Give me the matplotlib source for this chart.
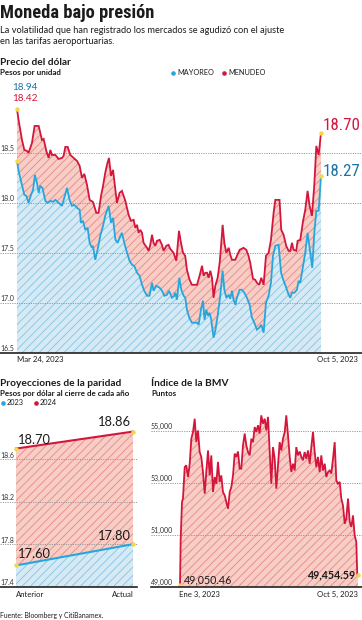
import matplotlib
matplotlib.use("Agg")
import matplotlib.pyplot as plt
from matplotlib import font_manager
import numpy as np

# ---------------- data ----------------
dolar_inicio, dolar_fin = "Mar 24, 2023", "Oct 5, 2023"
menudeo_dia = [0, 1.0, 3.2, 4.7, 6.4, 7.4, 9.6, 11.3, 13.9, 16.0, 17.1, 18.8, 20.3, 21.4, 22.4, 24.6,
               26.7, 28.9, 29.9, 31.0, 32.5, 34.2, 36.3, 38.5, 40.2, 41.7, 43.2, 44.9, 46.6, 48.7,
               50.9, 52.3, 53.9, 55.2, 56.6, 57.7, 59.0, 60.3, 61.6, 63.1, 64.1, 65.8, 67.3, 69.5,
               71.6, 73.1, 74.8, 75.9, 77.0, 78.0, 79.1, 80.2, 81.2, 83.4, 84.4, 85.5, 86.6, 87.6,
               88.7, 89.8, 91.5, 93.0, 94.0, 95.8, 97.2, 98.3, 100.4, 102.2, 103.9, 105.2, 106.5,
               107.9, 109.0, 110.7, 112.2, 113.7, 115.5, 117.1, 118.7, 119.7, 120.8, 121.9, 122.9,
               124.0, 125.1, 126.1, 127.2, 128.7, 130.0, 130.9, 131.9, 133.0, 134.3, 135.8, 136.8,
               137.9, 140.0, 141.1, 142.8, 145.3, 147.1, 148.5, 149.6, 151.4, 152.8, 153.9, 155.4,
               156.7, 158.2, 159.7, 161.4, 162.9, 164.6, 165.7, 168.4, 169.5, 171.0, 172.7, 174.2,
               175.3, 176.4, 177.4, 179.1, 180.0, 181.7, 183.5, 184.9, 186.4, 187.7, 189.2, 190.7,
               192.0, 193.5, 195.0]
menudeo = [18.94, 18.83, 18.63, 18.53, 18.52, 18.50, 18.60, 18.77, 18.77, 18.63, 18.64, 18.52, 18.45,
           18.53, 18.48, 18.48, 18.44, 18.45, 18.47, 18.56, 18.56, 18.48, 18.45, 18.42, 18.37, 18.25,
           18.29, 18.18, 18.03, 18.01, 17.90, 17.90, 18.07, 18.17, 18.30, 18.38, 18.45, 18.27, 18.33,
           18.13, 18.00, 18.10, 18.12, 18.02, 17.88, 17.82, 17.83, 17.75, 17.78, 17.70, 17.73, 17.70,
           17.60, 17.55, 17.52, 17.58, 17.68, 17.60, 17.57, 17.62, 17.63, 17.58, 17.52, 17.57, 17.58,
           17.54, 17.50, 17.42, 17.72, 17.60, 17.50, 17.47, 17.33, 17.23, 17.18, 17.18, 17.18, 17.27,
           17.37, 17.27, 17.30, 17.30, 17.25, 17.32, 17.25, 17.05, 17.17, 17.25, 17.40, 17.57, 17.78,
           17.60, 17.50, 17.55, 17.48, 17.43, 17.43, 17.47, 17.53, 17.55, 17.53, 17.47, 17.40, 17.24,
           17.23, 17.20, 17.18, 17.25, 17.18, 17.47, 17.50, 17.63, 17.90, 18.03, 18.03, 17.73, 17.68,
           17.57, 17.52, 17.52, 17.60, 17.53, 17.52, 17.62, 17.63, 17.82, 17.93, 18.12, 17.97, 17.87,
           18.18, 18.57, 18.48, 18.70]
mayoreo_dia = [0, 1.0, 3.2, 4.7, 6.0, 7.4, 9.0, 10.3, 11.5, 12.8, 13.9, 14.9, 16.3, 18.2, 19.6, 21.4,
               23.1, 24.6, 26.7, 28.9, 30.3, 32.1, 33.7, 35.3, 36.7, 38.5, 40.2, 41.0, 42.3, 43.8,
               45.3, 46.6, 48.1, 48.7, 50.2, 51.7, 53.4, 55.2, 56.6, 58.8, 60.3, 61.6, 63.1, 64.6,
               66.3, 67.3, 68.8, 70.6, 72.2, 73.8, 75.2, 77.0, 78.6, 80.2, 81.6, 83.4, 85.0, 86.6,
               87.6, 89.3, 91.5, 93.0, 94.5, 96.2, 97.5, 99.4, 100.9, 101.5, 102.6, 104.1, 105.4,
               106.9, 107.9, 109.0, 110.5, 112.2, 113.7, 115.5, 116.5, 118.0, 119.3, 120.3, 121.4,
               122.5, 123.5, 124.6, 126.1, 127.2, 128.7, 130.4, 131.9, 133.0, 134.3, 135.8, 136.8,
               137.9, 138.9, 140.0, 141.1, 142.8, 144.3, 145.8, 147.5, 149.2, 150.7, 152.2, 153.9,
               155.4, 156.7, 158.2, 159.7, 161.4, 162.9, 164.2, 165.7, 167.8, 169.4, 171.0, 172.7,
               174.2, 175.3, 176.4, 177.9, 179.6, 180.6, 181.7, 183.5, 184.9, 186.4, 187.7, 189.4,
               190.7, 192.0, 193.5, 195.0]
mayoreo = [18.42, 18.32, 18.18, 18.08, 18.07, 18.00, 18.08, 18.13, 18.28, 18.20, 18.10, 18.17, 18.15,
           18.02, 18.00, 18.02, 18.01, 18.03, 18.00, 17.97, 18.05, 18.15, 18.03, 17.97, 17.98, 17.95,
           17.93, 17.80, 17.82, 17.73, 17.75, 17.60, 17.55, 17.57, 17.43, 17.53, 17.67, 17.77, 17.87,
           17.97, 17.80, 17.85, 17.63, 17.60, 17.67, 17.70, 17.60, 17.50, 17.42, 17.38, 17.37, 17.30,
           17.27, 17.18, 17.12, 17.07, 17.07, 17.20, 17.12, 17.17, 17.15, 17.12, 17.07, 17.08, 17.12,
           17.05, 17.07, 17.10, 17.03, 17.25, 17.13, 17.07, 17.05, 16.93, 16.85, 16.80, 16.80, 16.80,
           16.78, 16.93, 17.02, 16.83, 16.93, 16.87, 16.90, 16.83, 16.65, 16.72, 16.87, 17.07, 17.32,
           17.13, 17.05, 17.08, 17.04, 17.12, 17.03, 16.98, 17.05, 17.13, 17.13, 17.10, 17.05, 16.98,
           16.85, 16.80, 16.73, 16.75, 16.78, 16.70, 17.00, 17.07, 17.20, 17.47, 17.57, 17.58, 17.30,
           17.22, 17.15, 17.08, 17.05, 17.10, 17.10, 17.13, 17.22, 17.20, 17.37, 17.50, 17.70, 17.55,
           17.35, 17.70, 17.92, 17.92, 18.27]
dolar_ticks = [16.5, 17.0, 17.5, 18.0, 18.5]
dolar_series = ["MAYOREO", "MENUDEO"]

proy_cat = ["Anterior", "Actual"]
proy_series = ["2023", "2024"]
proy_2023 = [17.60, 17.80]
proy_2024 = [18.70, 18.86]
proy_ticks = [17.4, 17.8, 18.2, 18.6]

bmv_inicio, bmv_fin = "Ene 3, 2023", "Oct 5, 2023"
bmv_dia = [0, 1.1, 3.1, 4.6, 7.3, 9.7, 12.4, 15.0, 17.5, 20.1, 22.7, 25.2, 27.8, 30.4, 32.9, 35.5,
           38.2, 40.6, 43.3, 45.9, 48.4, 51.0, 53.6, 56.1, 58.7, 61.3, 63.8, 66.4, 69.1, 71.5, 74.2,
           76.8, 79.3, 81.9, 84.5, 87.0, 89.6, 92.2, 94.7, 97.3, 100.0, 102.4, 105.1, 107.7, 110.2,
           112.8, 115.4, 117.9, 120.5, 123.1, 125.6, 128.2, 130.9, 133.3, 136.0, 138.6, 141.1, 143.7,
           146.3, 148.8, 151.4, 154.0, 156.5, 159.1, 161.8, 164.2, 166.9, 169.5, 172.0, 174.6, 177.2,
           179.7, 182.3, 184.9, 187.4, 190.0, 192.6, 195.1, 197.8, 200.4, 202.9, 205.5, 208.1, 210.6,
           213.2, 215.8, 218.3, 220.9, 223.6, 226.0, 228.7, 231.3, 233.8, 236.4, 239.0, 241.5, 244.1,
           246.8, 249.2, 251.8, 254.5, 256.9, 259.6, 262.2, 264.7, 267.3, 269.9, 272.4, 273.9, 275.0]
bmv = [49050.46, 50850, 52260, 52390, 53600, 53670, 53220, 53730, 54690, 54950, 55460, 54560, 55010,
       54180, 53990, 53410, 52580, 53410, 54240, 53280, 54050, 52640, 53220, 52960, 53800, 53030,
       53280, 52640, 52510, 52260, 52000, 52640, 52830, 53280, 54120, 53990, 54200, 53540, 53540,
       54440, 54890, 54440, 54180, 54050, 54690, 54560, 55140, 54950, 55210, 54890, 55590, 55270,
       55460, 55010, 55530, 54180, 52960, 54370, 53920, 52770, 53670, 54560, 54240, 54690, 54950,
       55590, 54820, 53990, 53410, 53730, 53470, 54370, 54050, 54200, 54000, 53860, 54180, 53920,
       54240, 53730, 54370, 54950, 54180, 53600, 53990, 53410, 54050, 53470, 53730, 53220, 53410,
       53470, 53350, 53920, 54560, 53090, 52960, 53030, 52390, 52130, 51420, 51620, 52390, 51490,
       51300, 51740, 50970, 50720, 49440, 49454.59]
bmv_ticks = [49000, 51000, 53000, 55000]

# ---------------- style ----------------
W, H = 362, 620
RED = '#d4163d'
BLUE = '#27a6de'
DBLUE = '#1b73a6'
RED_FILL = '#f7cdc5'
RED_HATCH = '#e38a83'
BLUE_FILL = '#d5eaf5'
BLUE_HATCH = '#86c2e2'
YELLOW = '#f2d94a'
GRID = '#9a9a9a'
TXT = '#1b1b1b'
BODY = 'Lato'
plt.rcParams['hatch.linewidth'] = 0.6
plt.rcParams['font.family'] = [BODY, 'DejaVu Sans']


def available(name):
    try:
        font_manager.findfont(font_manager.FontProperties(family=name),
                              fallback_to_default=False)
        return True
    except Exception:
        return False


NARROW = None
for cand in ['Liberation Sans Narrow', 'Roboto Condensed', 'DejaVu Sans Condensed',
             'Open Sans Condensed']:
    if available(cand):
        NARROW = cand
        break
if NARROW:
    TITLE_KW = dict(family=[NARROW, 'DejaVu Sans'], fontsize=13.3, fontweight='bold')
    BIG_KW = dict(family=[NARROW, 'DejaVu Sans'], fontsize=12.2)
else:
    TITLE_KW = dict(family=[BODY, 'DejaVu Sans'], fontsize=11.2, fontweight='bold')
    BIG_KW = dict(family=[BODY, 'DejaVu Sans'], fontsize=10.5)

fig = plt.figure(figsize=(W / 100, H / 100), dpi=100)
fig.patch.set_facecolor('white')


def box(l, t, r, b):
    return [l / W, 1 - b / H, (r - l) / W, (b - t) / H]


def ftext(x, y, s, **kw):
    kw.setdefault('va', 'baseline')
    kw.setdefault('color', TXT)
    fig.text(x / W, 1 - y / H, s, **kw)


def dot(x, y, color):
    fig.add_artist(plt.Line2D([x / W], [1 - y / H], marker='o', ms=3.3, color=color,
                              mec='none', transform=fig.transFigure))


def style_axes(ax, ticks, fmt, bottom):
    for s in ax.spines.values():
        s.set_visible(False)
    ax.set_xticks([])
    ax.set_yticks([])
    ax.patch.set_alpha(0)
    for t in ticks:
        if t != bottom:
            ax.axhline(t, color=GRID, lw=0.7, ls=(0, (1.2, 1.2)), zorder=3)
        ax.annotate(fmt(t), xy=(0, t), xycoords=('axes fraction', 'data'),
                    xytext=(0, 1.2), textcoords='offset points', va='baseline', ha='left',
                    fontsize=5.0, color='#333333', zorder=6)
    ax.axhline(bottom, color='#222222', lw=1.2, zorder=6, clip_on=False)


def area(ax, x, y, base, face, hatch_c, z):
    ax.fill_between(x, y, base, facecolor=face, edgecolor=hatch_c, hatch='////',
                    linewidth=0, zorder=z)


# ---------------- header ----------------
ftext(0, 18.5, "Moneda bajo presión", **TITLE_KW)
ftext(0, 33.3, "La volatilidad que han registrado los mercados se agudizó con el ajuste",
      fontsize=6.7)
ftext(0, 44.3, "en las tarifas aeroportuarias.", fontsize=6.7)

# ---------------- Precio del dólar ----------------
ftext(0, 65, "Precio del dólar", fontsize=7.3, fontweight='bold')
ftext(0, 75, "Pesos por unidad", fontsize=5.8, fontweight='bold')
dot(173, 73.2, BLUE)
ftext(177.5, 75, dolar_series[0], fontsize=5.3)
dot(224, 73.2, RED)
ftext(228.5, 75, dolar_series[1], fontsize=5.3)

ax1 = fig.add_axes(box(0, 93, 362, 352.7))
ax1.set_xlim(-10.9, 221.3)
ax1.set_ylim(16.5, 19.1)
area(ax1, menudeo_dia, menudeo, 16.5, RED_FILL, RED_HATCH, 1)
area(ax1, mayoreo_dia, mayoreo, 16.5, BLUE_FILL, BLUE_HATCH, 2)
style_axes(ax1, dolar_ticks, lambda t: f"{t:.1f}", 16.5)
ax1.plot(menudeo_dia, menudeo, color=RED, lw=1.3, zorder=4, solid_joinstyle='miter')
ax1.plot(mayoreo_dia, mayoreo, color=BLUE, lw=1.3, zorder=4, solid_joinstyle='miter')
ax1.plot([menudeo_dia[0], menudeo_dia[-1], mayoreo_dia[0], mayoreo_dia[-1]],
         [menudeo[0], menudeo[-1], mayoreo[0], mayoreo[-1]], 'o', color=YELLOW, ms=3.2,
         mec='none', zorder=5, clip_on=False)

ftext(12.7, 90.3, f"{menudeo[0]:.2f}", fontsize=7.2, color=DBLUE)
ftext(12.7, 101.2, f"{mayoreo[0]:.2f}", fontsize=7.2, color=RED)
ftext(323, 130.5, f"{menudeo[-1]:.2f}", color=RED, **BIG_KW)
ftext(323, 175.5, f"{mayoreo[-1]:.2f}", color=DBLUE, **BIG_KW)
ftext(17, 361.5, dolar_inicio, fontsize=5.6)
ftext(358, 361.5, dolar_fin, fontsize=5.6, ha='right')

# ---------------- Proyecciones ----------------
ftext(0, 385.7, "Proyecciones de la paridad", fontsize=7.3, fontweight='bold')
ftext(0, 395.7, "Pesos por dólar al cierre de cada año", fontsize=5.8, fontweight='bold')
dot(2.6, 403.3, BLUE)
ftext(6.5, 405.3, proy_series[0], fontsize=5.3)
dot(35.5, 403.3, RED)
ftext(39.5, 405.3, proy_series[1], fontsize=5.3)

ax2 = fig.add_axes(box(0, 415, 137, 586.7))
xp = np.arange(len(proy_cat))
ax2.set_xlim(-0.137, 1.034)
ax2.set_ylim(17.4, 19.016)
area(ax2, xp, proy_2024, 17.4, RED_FILL, RED_HATCH, 1)
area(ax2, xp, proy_2023, 17.4, BLUE_FILL, BLUE_HATCH, 2)
style_axes(ax2, proy_ticks, lambda t: f"{t:.1f}", 17.4)
ax2.plot(xp, proy_2024, color=RED, lw=1.5, zorder=4)
ax2.plot(xp, proy_2023, color=BLUE, lw=1.5, zorder=4)
ax2.plot(np.r_[xp, xp], proy_2024 + proy_2023, 'o', color=YELLOW, ms=3.2, mec='none',
         zorder=5, clip_on=False)
ftext(17.5, 443.5, f"{proy_2024[0]:.2f}", fontsize=9.3)
ftext(131, 426.3, f"{proy_2024[1]:.2f}", fontsize=9.3, ha='right')
ftext(131, 540.3, f"{proy_2023[1]:.2f}", fontsize=9.3, ha='right')
ftext(17.5, 557.5, f"{proy_2023[0]:.2f}", fontsize=9.3)
ftext(16, 596.7, proy_cat[0], fontsize=5.6)
ftext(133.5, 596.7, proy_cat[1], fontsize=5.6, ha='right')
ftext(0, 618.3, "Fuente: Bloomberg y CitiBanamex.", fontsize=4.9)

# ---------------- BMV ----------------
ftext(151, 385.7, "Índice de la BMV", fontsize=7.3, fontweight='bold')
ftext(151, 395.7, "Puntos", fontsize=5.8, fontweight='bold')

ax3 = fig.add_axes(box(151, 410, 362, 586.7))
ax3.set_xlim(-44.8, 281.2)
ax3.set_ylim(49000, 55796)
area(ax3, bmv_dia, bmv, 49000, RED_FILL, RED_HATCH, 1)
style_axes(ax3, bmv_ticks, lambda t: f"{t:,}", 49000)
ax3.plot(bmv_dia, bmv, color=RED, lw=1.3, zorder=4, solid_joinstyle='miter')
ax3.plot([bmv_dia[0], bmv_dia[-1]], [bmv[0], bmv[-1]], 'o', color=YELLOW, ms=3.2, mec='none',
         zorder=5, clip_on=False)
ftext(184, 583.3, f"{bmv[0]:,.2f}", fontsize=7.7)
ftext(356, 578.5, f"{bmv[-1]:,.2f}", fontsize=7.7, fontweight='bold', ha='right')
ftext(179, 596.7, bmv_inicio, fontsize=5.6)
ftext(358, 596.7, bmv_fin, fontsize=5.6, ha='right')

fig.savefig("out.png", dpi=100, facecolor='white')
